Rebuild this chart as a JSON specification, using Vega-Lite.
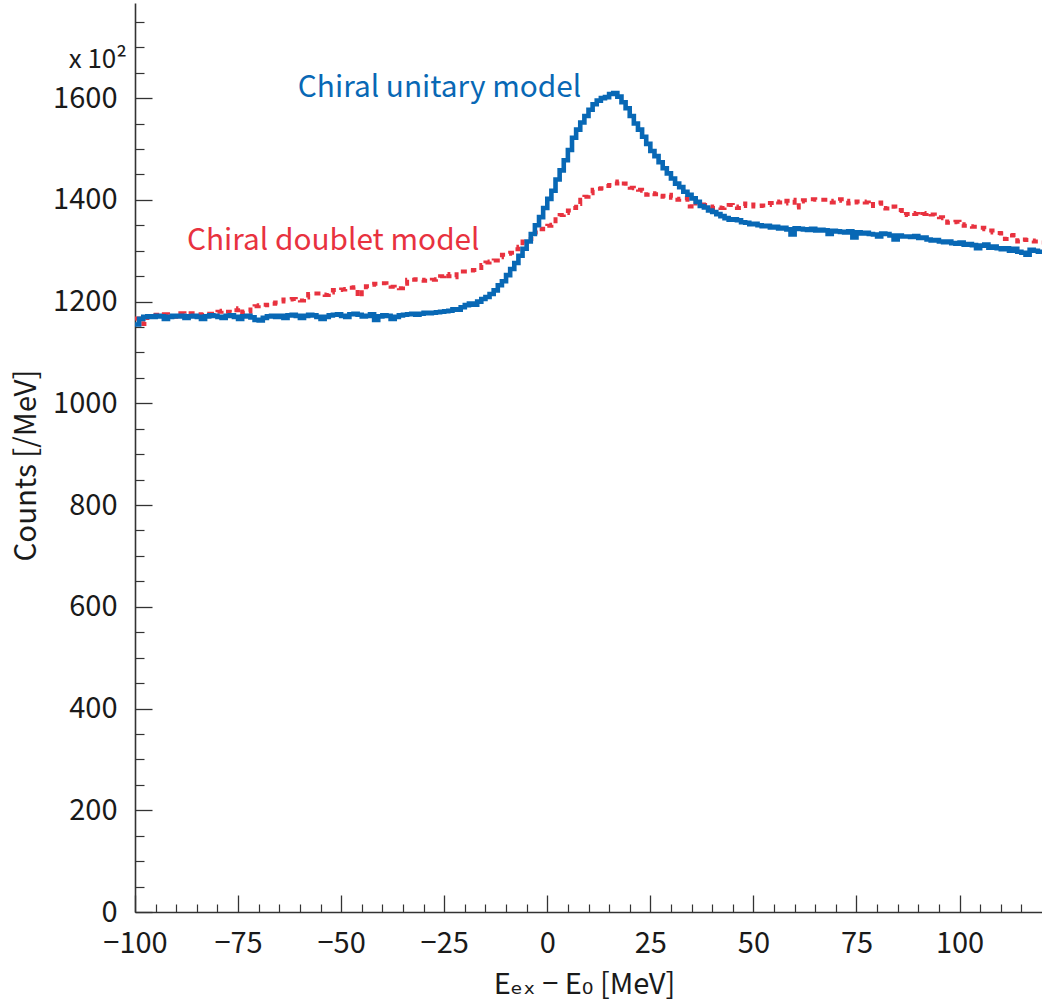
{
  "$schema": "https://vega.github.io/schema/vega-lite/v6.json",
  "width": 907,
  "height": 909,
  "autosize": {"type": "none"},
  "padding": {"left": 135, "top": 3, "right": 0, "bottom": 88},
  "background": "white",
  "config": {
    "view": {"stroke": null},
    "font": "Noto Sans CJK JP, DejaVu Sans"
  },
  "datasets": {
    "unitary": [
      {"e":-100,"c":1155},{"e":-99,"c":1166},{"e":-98,"c":1170},{"e":-97,"c":1171},{"e":-96,"c":1170},{"e":-95,"c":1172},{"e":-94,"c":1171},{"e":-93,"c":1166},{"e":-92,"c":1170},{"e":-91,"c":1172},
      {"e":-90,"c":1171},{"e":-89,"c":1172},{"e":-88,"c":1168},{"e":-87,"c":1171},{"e":-86,"c":1172},{"e":-85,"c":1170},{"e":-84,"c":1166},{"e":-83,"c":1171},{"e":-82,"c":1173},{"e":-81,"c":1172},
      {"e":-80,"c":1170},{"e":-79,"c":1168},{"e":-78,"c":1172},{"e":-77,"c":1173},{"e":-76,"c":1170},{"e":-75,"c":1166},{"e":-74,"c":1171},{"e":-73,"c":1172},{"e":-72,"c":1169},{"e":-71,"c":1164},
      {"e":-70,"c":1163},{"e":-69,"c":1168},{"e":-68,"c":1171},{"e":-67,"c":1172},{"e":-66,"c":1170},{"e":-65,"c":1172},{"e":-64,"c":1168},{"e":-63,"c":1173},{"e":-62,"c":1174},{"e":-61,"c":1172},
      {"e":-60,"c":1168},{"e":-59,"c":1172},{"e":-58,"c":1174},{"e":-57,"c":1173},{"e":-56,"c":1170},{"e":-55,"c":1166},{"e":-54,"c":1170},{"e":-53,"c":1173},{"e":-52,"c":1174},{"e":-51,"c":1175},
      {"e":-50,"c":1172},{"e":-49,"c":1170},{"e":-48,"c":1175},{"e":-47,"c":1176},{"e":-46,"c":1174},{"e":-45,"c":1171},{"e":-44,"c":1172},{"e":-43,"c":1175},{"e":-42,"c":1164},{"e":-41,"c":1171},
      {"e":-40,"c":1173},{"e":-39,"c":1172},{"e":-38,"c":1166},{"e":-37,"c":1170},{"e":-36,"c":1173},{"e":-35,"c":1174},{"e":-34,"c":1175},{"e":-33,"c":1176},{"e":-32,"c":1174},{"e":-31,"c":1176},
      {"e":-30,"c":1178},{"e":-29,"c":1177},{"e":-28,"c":1178},{"e":-27,"c":1179},{"e":-26,"c":1180},{"e":-25,"c":1181},{"e":-24,"c":1182},{"e":-23,"c":1185},{"e":-22,"c":1184},{"e":-21,"c":1189},
      {"e":-20,"c":1193},{"e":-19,"c":1196},{"e":-18,"c":1194},{"e":-17,"c":1200},{"e":-16,"c":1205},{"e":-15,"c":1209},{"e":-14,"c":1215},{"e":-13,"c":1222},{"e":-12,"c":1232},{"e":-11,"c":1240},
      {"e":-10,"c":1252},{"e":-9,"c":1264},{"e":-8,"c":1276},{"e":-7,"c":1290},{"e":-6,"c":1304},{"e":-5,"c":1318},{"e":-4,"c":1333},{"e":-3,"c":1350},{"e":-2,"c":1366},{"e":-1,"c":1384},
      {"e":0,"c":1402},{"e":1,"c":1418},{"e":2,"c":1440},{"e":3,"c":1458},{"e":4,"c":1478},{"e":5,"c":1498},{"e":6,"c":1522},{"e":7,"c":1538},{"e":8,"c":1552},{"e":9,"c":1565},
      {"e":10,"c":1577},{"e":11,"c":1588},{"e":12,"c":1595},{"e":13,"c":1600},{"e":14,"c":1602},{"e":15,"c":1608},{"e":16,"c":1610},{"e":17,"c":1603},{"e":18,"c":1592},{"e":19,"c":1580},
      {"e":20,"c":1565},{"e":21,"c":1550},{"e":22,"c":1538},{"e":23,"c":1524},{"e":24,"c":1510},{"e":25,"c":1496},{"e":26,"c":1486},{"e":27,"c":1474},{"e":28,"c":1462},{"e":29,"c":1452},
      {"e":30,"c":1442},{"e":31,"c":1432},{"e":32,"c":1425},{"e":33,"c":1416},{"e":34,"c":1410},{"e":35,"c":1403},{"e":36,"c":1396},{"e":37,"c":1388},{"e":38,"c":1385},{"e":39,"c":1379},
      {"e":40,"c":1376},{"e":41,"c":1372},{"e":42,"c":1368},{"e":43,"c":1364},{"e":44,"c":1361},{"e":45,"c":1362},{"e":46,"c":1360},{"e":47,"c":1356},{"e":48,"c":1355},{"e":49,"c":1352},
      {"e":50,"c":1353},{"e":51,"c":1350},{"e":52,"c":1348},{"e":53,"c":1349},{"e":54,"c":1346},{"e":55,"c":1347},{"e":56,"c":1344},{"e":57,"c":1345},{"e":58,"c":1342},{"e":59,"c":1332},
      {"e":60,"c":1344},{"e":61,"c":1343},{"e":62,"c":1342},{"e":63,"c":1341},{"e":64,"c":1343},{"e":65,"c":1340},{"e":66,"c":1341},{"e":67,"c":1340},{"e":68,"c":1333},{"e":69,"c":1339},
      {"e":70,"c":1338},{"e":71,"c":1337},{"e":72,"c":1336},{"e":73,"c":1338},{"e":74,"c":1326},{"e":75,"c":1336},{"e":76,"c":1334},{"e":77,"c":1335},{"e":78,"c":1333},{"e":79,"c":1332},
      {"e":80,"c":1328},{"e":81,"c":1334},{"e":82,"c":1333},{"e":83,"c":1330},{"e":84,"c":1322},{"e":85,"c":1330},{"e":86,"c":1328},{"e":87,"c":1328},{"e":88,"c":1327},{"e":89,"c":1329},
      {"e":90,"c":1325},{"e":91,"c":1326},{"e":92,"c":1322},{"e":93,"c":1320},{"e":94,"c":1321},{"e":95,"c":1318},{"e":96,"c":1317},{"e":97,"c":1318},{"e":98,"c":1315},{"e":99,"c":1314},
      {"e":100,"c":1316},{"e":101,"c":1312},{"e":102,"c":1313},{"e":103,"c":1311},{"e":104,"c":1305},{"e":105,"c":1310},{"e":106,"c":1312},{"e":107,"c":1306},{"e":108,"c":1308},{"e":109,"c":1305},
      {"e":110,"c":1303},{"e":111,"c":1305},{"e":112,"c":1300},{"e":113,"c":1304},{"e":114,"c":1298},{"e":115,"c":1296},{"e":116,"c":1292},{"e":117,"c":1302},{"e":118,"c":1300},{"e":119,"c":1298},
      {"e":120,"c":1298}
    ],
    "doublet": [
      {"e":-100,"c":1167},{"e":-99,"c":1165},{"e":-98,"c":1156},{"e":-97,"c":1170},{"e":-96,"c":1171},{"e":-95,"c":1174},{"e":-94,"c":1173},{"e":-93,"c":1175},{"e":-92,"c":1174},{"e":-91,"c":1170},
      {"e":-90,"c":1172},{"e":-89,"c":1177},{"e":-88,"c":1176},{"e":-87,"c":1177},{"e":-86,"c":1177},{"e":-85,"c":1175},{"e":-84,"c":1174},{"e":-83,"c":1175},{"e":-82,"c":1176},{"e":-81,"c":1176},
      {"e":-80,"c":1180},{"e":-79,"c":1182},{"e":-78,"c":1180},{"e":-77,"c":1179},{"e":-76,"c":1183},{"e":-75,"c":1187},{"e":-74,"c":1178},{"e":-73,"c":1180},{"e":-72,"c":1189},{"e":-71,"c":1191},
      {"e":-70,"c":1193},{"e":-69,"c":1194},{"e":-68,"c":1193},{"e":-67,"c":1196},{"e":-66,"c":1198},{"e":-65,"c":1200},{"e":-64,"c":1204},{"e":-63,"c":1204},{"e":-62,"c":1205},{"e":-61,"c":1204},
      {"e":-60,"c":1202},{"e":-59,"c":1208},{"e":-58,"c":1215},{"e":-57,"c":1216},{"e":-56,"c":1216},{"e":-55,"c":1214},{"e":-54,"c":1213},{"e":-53,"c":1218},{"e":-52,"c":1223},{"e":-51,"c":1223},
      {"e":-50,"c":1224},{"e":-49,"c":1225},{"e":-48,"c":1227},{"e":-47,"c":1228},{"e":-46,"c":1210},{"e":-45,"c":1223},{"e":-44,"c":1230},{"e":-43,"c":1233},{"e":-42,"c":1235},{"e":-41,"c":1236},
      {"e":-40,"c":1236},{"e":-39,"c":1232},{"e":-38,"c":1229},{"e":-37,"c":1227},{"e":-36,"c":1226},{"e":-35,"c":1235},{"e":-34,"c":1243},{"e":-33,"c":1243},{"e":-32,"c":1244},{"e":-31,"c":1243},
      {"e":-30,"c":1241},{"e":-29,"c":1241},{"e":-28,"c":1243},{"e":-27,"c":1244},{"e":-26,"c":1250},{"e":-25,"c":1254},{"e":-24,"c":1250},{"e":-23,"c":1248},{"e":-22,"c":1259},{"e":-21,"c":1259},
      {"e":-20,"c":1259},{"e":-19,"c":1261},{"e":-18,"c":1262},{"e":-17,"c":1266},{"e":-16,"c":1272},{"e":-15,"c":1277},{"e":-14,"c":1279},{"e":-13,"c":1281},{"e":-12,"c":1287},{"e":-11,"c":1292},
      {"e":-10,"c":1294},{"e":-9,"c":1296},{"e":-8,"c":1303},{"e":-7,"c":1308},{"e":-6,"c":1318},{"e":-5,"c":1320},{"e":-4,"c":1323},{"e":-3,"c":1336},{"e":-2,"c":1342},{"e":-1,"c":1347},
      {"e":0,"c":1349},{"e":1,"c":1351},{"e":2,"c":1367},{"e":3,"c":1370},{"e":4,"c":1374},{"e":5,"c":1379},{"e":6,"c":1384},{"e":7,"c":1392},{"e":8,"c":1400},{"e":9,"c":1406},
      {"e":10,"c":1413},{"e":11,"c":1420},{"e":12,"c":1422},{"e":13,"c":1423},{"e":14,"c":1427},{"e":15,"c":1429},{"e":16,"c":1432},{"e":17,"c":1436},{"e":18,"c":1432},{"e":19,"c":1426},
      {"e":20,"c":1424},{"e":21,"c":1423},{"e":22,"c":1420},{"e":23,"c":1418},{"e":24,"c":1410},{"e":25,"c":1413},{"e":26,"c":1411},{"e":27,"c":1406},{"e":28,"c":1408},{"e":29,"c":1410},
      {"e":30,"c":1404},{"e":31,"c":1400},{"e":32,"c":1402},{"e":33,"c":1403},{"e":34,"c":1387},{"e":35,"c":1397},{"e":36,"c":1393},{"e":37,"c":1391},{"e":38,"c":1390},{"e":39,"c":1387},
      {"e":40,"c":1384},{"e":41,"c":1385},{"e":42,"c":1384},{"e":43,"c":1386},{"e":44,"c":1390},{"e":45,"c":1387},{"e":46,"c":1384},{"e":47,"c":1388},{"e":48,"c":1393},{"e":49,"c":1391},
      {"e":50,"c":1387},{"e":51,"c":1388},{"e":52,"c":1389},{"e":53,"c":1390},{"e":54,"c":1394},{"e":55,"c":1397},{"e":56,"c":1395},{"e":57,"c":1393},{"e":58,"c":1398},{"e":59,"c":1400},
      {"e":60,"c":1385},{"e":61,"c":1397},{"e":62,"c":1399},{"e":63,"c":1401},{"e":64,"c":1401},{"e":65,"c":1400},{"e":66,"c":1400},{"e":67,"c":1400},{"e":68,"c":1398},{"e":69,"c":1395},
      {"e":70,"c":1398},{"e":71,"c":1401},{"e":72,"c":1398},{"e":73,"c":1393},{"e":74,"c":1395},{"e":75,"c":1397},{"e":76,"c":1397},{"e":77,"c":1395},{"e":78,"c":1388},{"e":79,"c":1392},
      {"e":80,"c":1395},{"e":81,"c":1384},{"e":82,"c":1383},{"e":83,"c":1382},{"e":84,"c":1387},{"e":85,"c":1380},{"e":86,"c":1370},{"e":87,"c":1372},{"e":88,"c":1374},{"e":89,"c":1372},
      {"e":90,"c":1370},{"e":91,"c":1372},{"e":92,"c":1374},{"e":93,"c":1371},{"e":94,"c":1368},{"e":95,"c":1366},{"e":96,"c":1364},{"e":97,"c":1355},{"e":98,"c":1356},{"e":99,"c":1357},
      {"e":100,"c":1352},{"e":101,"c":1349},{"e":102,"c":1348},{"e":103,"c":1347},{"e":104,"c":1347},{"e":105,"c":1345},{"e":106,"c":1342},{"e":107,"c":1340},{"e":108,"c":1336},{"e":109,"c":1335},
      {"e":110,"c":1334},{"e":111,"c":1323},{"e":112,"c":1330},{"e":113,"c":1331},{"e":114,"c":1318},{"e":115,"c":1322},{"e":116,"c":1321},{"e":117,"c":1320},{"e":118,"c":1318},{"e":119,"c":1316},
      {"e":120,"c":1316}
    ],
    "labels": [
      {"text": "Chiral unitary model", "e": -60.5, "c": 1602, "model": "unitary"},
      {"text": "Chiral doublet model", "e": -87.4, "c": 1301, "model": "doublet"}
    ],
    "scale": [
      {"text": "x 10²", "e": -100, "c": 1660}
    ]
  },
  "layer": [
    {
      "data": {"name": "doublet"},
      "mark": {"type": "line", "interpolate": "step-after", "color": "#e8323f", "strokeWidth": 4, "strokeDash": [6, 5], "strokeCap": "butt"},
      "encoding": {
        "x": {"field": "e", "type": "quantitative", "scale": {"domain": [-100, 120], "nice": false, "zero": false},
          "axis": {"orient": "bottom", "values": [-95,-90,-85,-80,-70,-65,-60,-55,-45,-40,-35,-30,-20,-15,-10,-5,5,10,15,20,30,35,40,45,55,60,65,70,80,85,90,95,105,110,115],
            "labels": false, "tickSize": -8, "tickColor": "#333333", "tickWidth": 1.2, "domain": false, "grid": false, "title": null}},
        "y": {"field": "c", "type": "quantitative", "scale": {"domain": [0, 1787], "nice": false, "zero": true},
          "axis": {"orient": "left", "values": [50,100,150,250,300,350,450,500,550,650,700,750,850,900,950,1050,1100,1150,1250,1300,1350,1450,1500,1550,1650,1700,1750],
            "labels": false, "tickSize": -9, "tickColor": "#333333", "tickWidth": 1.2, "domain": false, "grid": false, "title": null}}
      }
    },
    {
      "data": {"name": "unitary"},
      "mark": {"type": "line", "interpolate": "step-after", "color": "#0868b5", "strokeWidth": 4.6, "strokeJoin": "miter"},
      "encoding": {
        "x": {"field": "e", "type": "quantitative",
          "axis": {"orient": "bottom", "values": [-100,-75,-50,-25,0,25,50,75,100], "format": "d", "tickSize": -17, "tickColor": "#333333", "tickWidth": 1.3,
            "domainColor": "#333333", "domainWidth": 1.6, "grid": false, "labelFlush": false, "labelOverlap": false,
            "labelFont": "Noto Sans CJK JP", "labelFontSize": 29, "labelColor": "#1a1a1a", "labelPadding": 34, "labelBaseline": "top",
            "title": "Eₑₓ − E₀ [MeV]", "titleFont": "Noto Sans CJK JP, DejaVu Sans", "titleFontSize": 29, "titleFontWeight": "normal", "titleColor": "#1a1a1a",
            "titleX": 449, "titleY": 81, "titleBaseline": "alphabetic", "titleAnchor": "middle"}},
        "y": {"field": "c", "type": "quantitative",
          "axis": {"orient": "left", "values": [0,200,400,600,800,1000,1200,1400,1600], "format": "d", "tickSize": -17, "tickColor": "#333333", "tickWidth": 1.3,
            "domainColor": "#333333", "domainWidth": 1.6, "grid": false, "labelFlush": false, "labelOverlap": false,
            "labelFont": "Noto Sans CJK JP", "labelFontSize": 29, "labelColor": "#1a1a1a", "labelPadding": 35, "labelBaseline": "middle",
            "title": "Counts [/MeV]", "titleFont": "Noto Sans CJK JP", "titleFontSize": 29.5, "titleFontWeight": "normal", "titleColor": "#1a1a1a",
            "titleX": -109, "titleY": 462, "titleAngle": -90, "titleAlign": "center", "titleBaseline": "middle"}}
      }
    },
    {
      "data": {"name": "labels"},
      "mark": {"type": "text", "align": "left", "baseline": "alphabetic", "fontSize": 29.8, "font": "Noto Sans CJK JP"},
      "encoding": {
        "x": {"field": "e", "type": "quantitative", "axis": null},
        "y": {"field": "c", "type": "quantitative", "axis": null},
        "text": {"field": "text"},
        "color": {"field": "model", "type": "nominal", "scale": {"domain": ["unitary", "doublet"], "range": ["#0868b5", "#e8323f"]}, "legend": null}
      }
    },
    {
      "data": {"name": "scale"},
      "mark": {"type": "text", "align": "right", "baseline": "alphabetic", "dx": -8, "fontSize": 26, "font": "Noto Sans CJK JP", "color": "#1a1a1a"},
      "encoding": {
        "x": {"field": "e", "type": "quantitative", "axis": null},
        "y": {"field": "c", "type": "quantitative", "axis": null},
        "text": {"field": "text"}
      }
    }
  ],
  "resolve": {"axis": {"x": "independent", "y": "independent"}}
}
